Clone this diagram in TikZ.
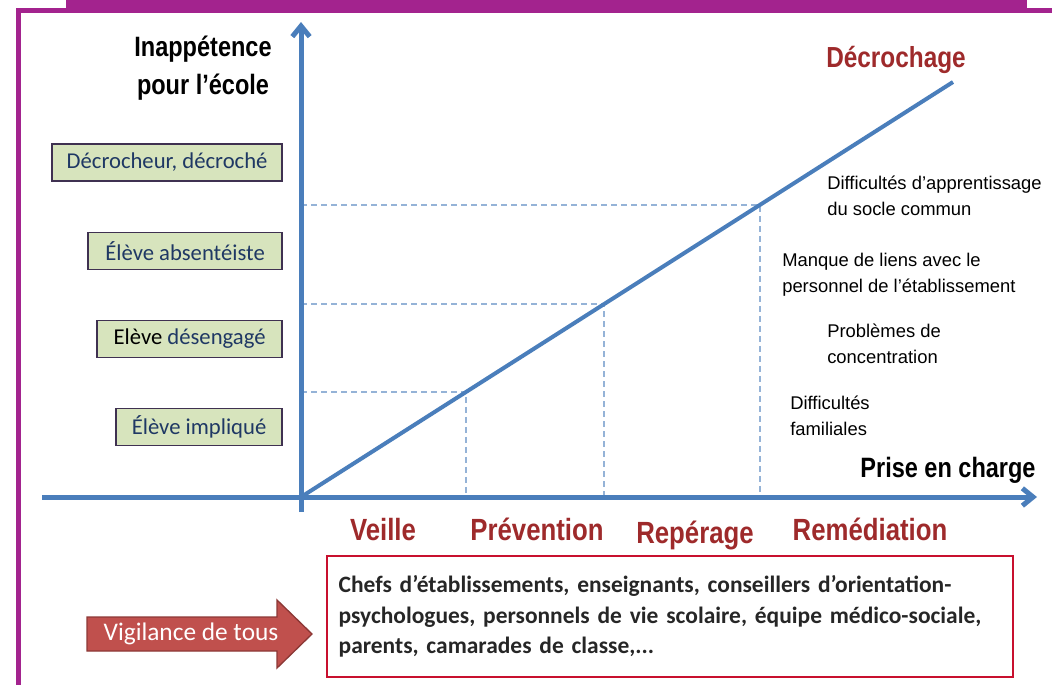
\documentclass[tikz,border=0pt]{standalone}
\usepackage{fontspec}
\setmainfont{Carlito}
\newfontfamily\arialfont{Liberation Sans}
\newfontfamily\narrowfont[FakeStretch=0.84]{Liberation Sans}
\usetikzlibrary{arrows.meta,calc}
\definecolor{framepurple}{HTML}{A3238E}
\definecolor{axisblue}{HTML}{4A7EBB}
\definecolor{dashblue}{HTML}{95B3D7}
\definecolor{boxfill}{HTML}{D7E4BD}
\definecolor{boxborder}{HTML}{3F3151}
\definecolor{boxtext}{HTML}{1F3864}
\definecolor{phasered}{HTML}{9E2A2B}
\definecolor{actorred}{HTML}{C8102E}
\definecolor{arrowfill}{HTML}{C0504D}
\definecolor{arrowline}{HTML}{8C3836}
\definecolor{darktext}{HTML}{262626}
\begin{document}
\begin{tikzpicture}[x=0.75pt,y=-0.75pt,
  levelbox/.style={draw=boxborder, fill=boxfill, line width=1.4pt, minimum height=27.75pt,
    inner xsep=4pt, anchor=east, text=boxtext, font=\fontsize{17}{20}\selectfont},
  phase/.style={text=phasered, anchor=base, inner sep=0pt, font=\narrowfont\bfseries\fontsize{23}{28}\selectfont},
  factor/.style={align=left, anchor=west, inner sep=0pt, font=\arialfont\fontsize{13.8}{19.5}\selectfont},
  axistitle/.style={align=center, inner sep=0pt, font=\narrowfont\bfseries\fontsize{21}{28.5}\selectfont},
  axisline/.style={draw=axisblue, line width=3.75pt},
  dashline/.style={draw=dashblue, line width=1.5pt, dash pattern=on 4.5pt off 3pt},
  tip/.style={-{Straight Barb[length=8pt,width=13pt]}}
]
\useasboundingbox (0,0) rectangle (1052,685);
% frame
\fill[framepurple] (66,0) rectangle (1027,13);
\fill[framepurple] (16,8) rectangle (1052,13);
\fill[framepurple] (16,8) rectangle (21,685);

% coordinates
\coordinate (O) at (301,497);
\coordinate (ytop) at (301,22);
\coordinate (ybot) at (301,512);
\coordinate (xleft) at (42,497);
\coordinate (xright) at (1037,497);
\coordinate (D) at (953,82);
\coordinate (P1) at ($(O)!0.2531!(D)$);
\coordinate (P2) at ($(O)!0.4647!(D)$);
\coordinate (P3) at ($(O)!0.7040!(D)$);

% dashed guides
\draw[dashline] (O |- P1) -- (P1) -- (P1 |- O);
\draw[dashline] (O |- P2) -- (P2) -- (P2 |- O);
\draw[dashline] (O |- P3) -- (P3) -- (P3 |- O);

% axes
\draw[axisline, tip] (ybot) -- (ytop);
\draw[axisline, tip] (xleft) -- (xright);
\draw[draw=axisblue, line width=3pt] (O) -- (D);

% axis titles
\node[axistitle] (ytitle) at (203,68) {Inappétence\\pour l’école};
\node[axistitle, anchor=base] (xtitle) at (948,477) {Prise en charge};
\node[phase, font=\narrowfont\bfseries\fontsize{21.75}{27}\selectfont] (decro) at (896,68) {Décrochage};

% level boxes
\node[levelbox, minimum width=172.5pt] (b1) at (283,162.5) {Décrocheur, décroché};
\node[levelbox, minimum width=145.5pt] (b2) at (283,251) {Élève absentéiste};
\node[levelbox, minimum width=138.75pt] (b3) at (283,339) {\textcolor{black}{Elève} désengagé};
\node[levelbox, minimum width=124.5pt] (b4) at (283,427) {Élève impliqué};

% factors
\node[factor] (f1) at (827,196) {Difficultés d’apprentissage\\du socle commun};
\node[factor] (f2) at (782,274.5) {Manque de liens avec le\\personnel de l’établissement};
\node[factor] (f3) at (827,343.5) {Problèmes de\\concentration};
\node[factor] (f4) at (790,415.5) {Difficultés\\familiales};

% phases
\node[phase] (veille) at (383,540) {Veille};
\node[phase] (prev) at (537,540) {Prévention};
\node[phase] (rep) at (695,543) {Repérage};
\node[phase] (reme) at (870,540) {Remédiation};

% actors box
\node[draw=actorred, line width=2.2pt, minimum width=514.5pt, minimum height=90.75pt,
  text width=497pt, align=left, inner xsep=8.25pt, text=darktext,
  font=\bfseries\fontsize{17.6}{23}\selectfont] (actors) at (670,616.5)
  {Chefs d’établissements, enseignants, conseillers d’orientation-\\psychologues, personnels de vie scolaire, équipe médico-sociale,\\parents, camarades de classe,...};

% vigilance arrow
\fill[arrowfill, draw=arrowline, line width=1pt]
  (87,617) -- (277,617) -- (277,600) -- (312,634) -- (277,668) -- (277,651) -- (87,651) -- cycle;
\node[text=white, inner sep=0pt, font=\fontsize{19}{22}\selectfont] (vig) at (191,634) {Vigilance de tous};
\end{tikzpicture}
\end{document}
